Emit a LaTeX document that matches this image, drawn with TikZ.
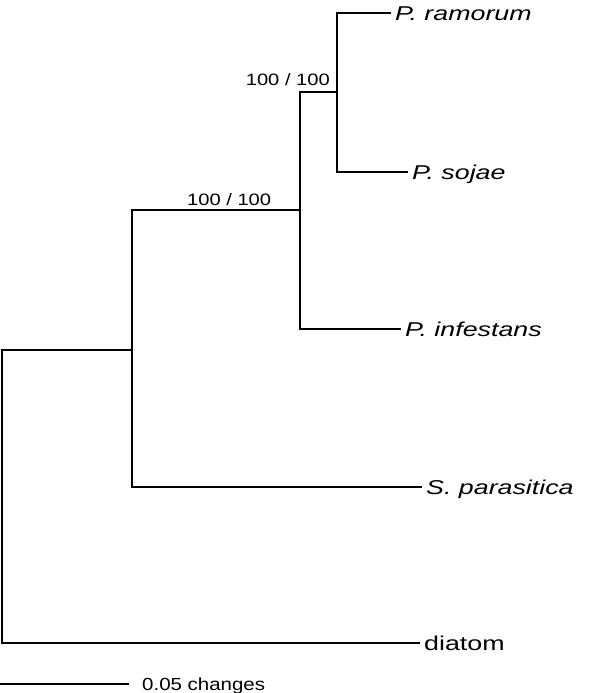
\documentclass[tikz,border=0pt]{standalone}
\usepackage{fontspec}
\setmainfont{Liberation Sans}
\begin{document}
\begin{tikzpicture}[x=1pt,y=-1pt,
  branch/.style={line width=2.7pt, line cap=rect},
  taxon/.style={anchor=west, inner xsep=5pt, inner ysep=0pt, text height=14.3pt, text depth=0pt,
    font=\fontsize{20}{24}\selectfont\itshape},
  plain/.style={anchor=west, inner xsep=5pt, inner ysep=0pt, text height=14.3pt, text depth=0pt,
    font=\fontsize{20}{24}\selectfont},
  support/.style={inner sep=0pt, font=\fontsize{16.5}{20}\selectfont}]
\useasboundingbox (0,0) rectangle (600,693);
% internal nodes
\coordinate (root) at (2,350);
\coordinate (A) at (132,350);
\coordinate (B) at (300,210);
\coordinate (C) at (337,92);
% tips
\node[taxon] (ram) at (390,13) {\scalebox{1.34}[1]{P. ramorum}};
\node[taxon] (soj) at (407,172) {\scalebox{1.34}[1]{P. sojae}};
\node[taxon] (inf) at (400,329) {\scalebox{1.34}[1]{P. infestans}};
\node[taxon] (par) at (421,487) {\scalebox{1.34}[1]{S. parasitica}};
\node[plain] (dia) at (419,643) {\scalebox{1.34}[1]{diatom}};
% branches
\draw[branch] (root) |- (dia.west);
\draw[branch] (root) -- (A);
\draw[branch] (A |- B) |- (par.west);
\draw[branch] (A |- B) -- (B);
\draw[branch] (B |- C) |- (inf.west);
\draw[branch] (B |- C) -- (C);
\draw[branch] (C |- ram.west) |- (soj.west);
\draw[branch] (C |- ram.west) -- (ram.west);
% support values
\node[support, anchor=base east] (sC) at (330,85) {\scalebox{1.22}[1]{100 / 100}};
\node[support, anchor=base west] (sB) at (187,205) {\scalebox{1.22}[1]{100 / 100}};
% scale bar
\coordinate (s0) at (0,684);
\coordinate (s1) at (129,684);
\node[anchor=west, inner xsep=0pt, inner ysep=0pt, text height=12.5pt, text depth=0pt,
  font=\fontsize{17.5}{21}\selectfont] (slab) at (142,684) {\scalebox{1.17}[1]{0.05 changes}};
\draw[line width=2.7pt] (s0) -- (s1);
\end{tikzpicture}
\end{document}
